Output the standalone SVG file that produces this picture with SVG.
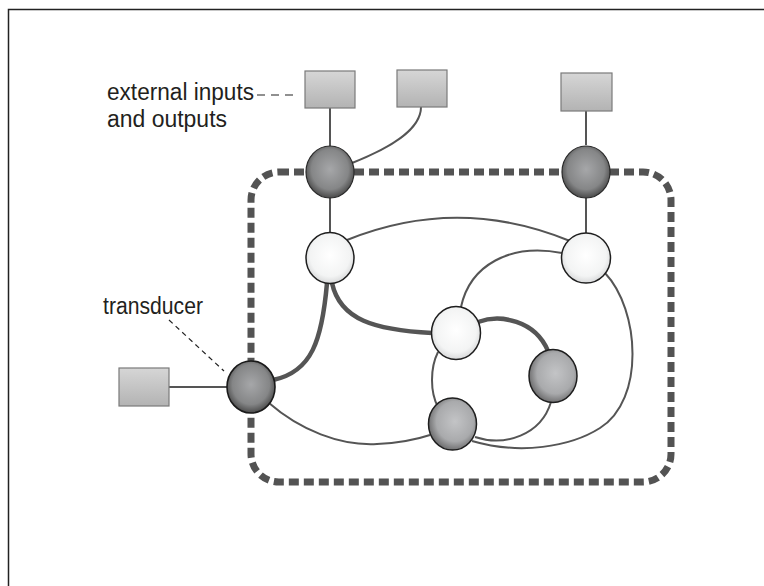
<svg xmlns="http://www.w3.org/2000/svg" width="764" height="586" viewBox="0 0 764 586">
  <defs>
    <radialGradient id="gDark" cx="50%" cy="45%" r="55%">
      <stop offset="0" stop-color="#a6a7a9"/>
      <stop offset="0.7" stop-color="#858687"/>
      <stop offset="1" stop-color="#4a4a4a"/>
    </radialGradient>
    <radialGradient id="gMid" cx="55%" cy="45%" r="55%">
      <stop offset="0" stop-color="#c3c4c6"/>
      <stop offset="0.7" stop-color="#a9aaac"/>
      <stop offset="1" stop-color="#727273"/>
    </radialGradient>
    <radialGradient id="gLight" cx="50%" cy="45%" r="55%">
      <stop offset="0" stop-color="#ffffff"/>
      <stop offset="0.75" stop-color="#f3f4f4"/>
      <stop offset="1" stop-color="#d8d9da"/>
    </radialGradient>
    <linearGradient id="gBox" x1="0" y1="0" x2="0" y2="1">
      <stop offset="0" stop-color="#d6d6d6"/>
      <stop offset="1" stop-color="#b3b3b3"/>
    </linearGradient>
  </defs>
  <style>
    .frame { fill: #ffffff; stroke: #222222; stroke-width: 1.5; }
    .boundary { fill: none; stroke: #535353; stroke-width: 7; stroke-dasharray: 10 5; }
    .box { fill: url(#gBox); stroke: #7a7a7a; stroke-width: 1.2; }
    .transducer { fill: url(#gDark); stroke: #2a2a2a; stroke-width: 1.2; }
    .hidden { fill: url(#gMid); stroke: #1e1e1e; stroke-width: 1.5; }
    .inner { fill: url(#gLight); stroke: #1e1e1e; stroke-width: 1.5; }
    .link { fill: none; stroke: #555555; stroke-width: 2; }
    .strong { fill: none; stroke: #555555; stroke-width: 4.5; }
    .leader { fill: none; stroke: #222222; stroke-width: 1.2; }
    .label { font-family: "Liberation Sans", Arial, sans-serif; font-size: 23px; fill: #231f20; }
  </style>

  <!-- page frame -->
  <rect class="frame" x="8.5" y="9.5" width="800" height="600"/>

  <!-- network boundary -->
  <rect class="boundary" x="251" y="172" width="420" height="310" rx="28" ry="28"/>

  <!-- labels -->
  <g id="label-external">
    <text class="label" x="107" y="100" textLength="147" lengthAdjust="spacingAndGlyphs">external inputs</text>
    <text class="label" x="107" y="127" textLength="120" lengthAdjust="spacingAndGlyphs">and outputs</text>
    <path class="leader" d="M257,95 H297" stroke-dasharray="8 6"/>
  </g>
  <g id="label-transducer">
    <text class="label" x="103" y="314" textLength="100" lengthAdjust="spacingAndGlyphs">transducer</text>
    <path class="leader" d="M169,320 L224,371" stroke-dasharray="5 4"/>
  </g>

  <!-- connectors -->
  <g id="connectors">
    <path class="link" d="M330,108 V146"/>
    <path class="link" d="M421,107 C421,130 390,148 352,163"/>
    <path class="link" d="M586,111 V145"/>
    <path class="link" d="M330,198 V232"/>
    <path class="link" d="M586,198 V233"/>
    <path class="link" d="M169,387 H227"/>
    <path class="link" d="M347,240 Q458,195 570,241"/>
    <path class="link" d="M562,253 C510,243 470,265 461,307"/>
    <path class="link" d="M605,273 C640,310 645,400 600,428 C570,447 520,455 472,441"/>
    <path class="link" d="M551,402 C541,435 505,447 475,437"/>
    <path class="link" d="M438,352 C430,368 430,392 438,407"/>
    <path class="link" d="M269,403 C300,430 340,446 377,444 C400,443 415,440 430,435"/>
    <path class="strong" d="M478,322 C500,314 535,320 548,351"/>
    <path class="strong" d="M332,283 C340,320 375,330 432,333"/>
    <path class="strong" d="M327,283 C322,340 312,372 273,380"/>
  </g>

  <!-- external boxes -->
  <g id="box-in-1"><rect class="box" x="305" y="71" width="50" height="37"/></g>
  <g id="box-in-2"><rect class="box" x="397" y="70" width="50" height="37"/></g>
  <g id="box-out-1"><rect class="box" x="561" y="73" width="51" height="38"/></g>
  <g id="box-in-3"><rect class="box" x="119" y="368" width="50" height="38"/></g>

  <!-- transducer nodes on the boundary -->
  <g id="transducer-1"><ellipse class="transducer" cx="330" cy="172" rx="24" ry="26"/></g>
  <g id="transducer-2"><ellipse class="transducer" cx="586" cy="172" rx="24" ry="26"/></g>
  <g id="transducer-3"><ellipse class="transducer" cx="251" cy="387" rx="24" ry="26" style="stroke:#1a1a1a;stroke-width:1.6"/></g>

  <!-- internal nodes -->
  <g id="node-a"><ellipse class="inner" cx="330" cy="258" rx="24" ry="25.5"/></g>
  <g id="node-b"><ellipse class="inner" cx="586" cy="258" rx="24.5" ry="25"/></g>
  <g id="node-c"><ellipse class="inner" cx="456" cy="333" rx="24.5" ry="26.5"/></g>
  <g id="node-d"><ellipse class="hidden" cx="553" cy="376" rx="24" ry="26.5"/></g>
  <g id="node-e"><ellipse class="hidden" cx="452.5" cy="424" rx="24" ry="26"/></g>
</svg>
